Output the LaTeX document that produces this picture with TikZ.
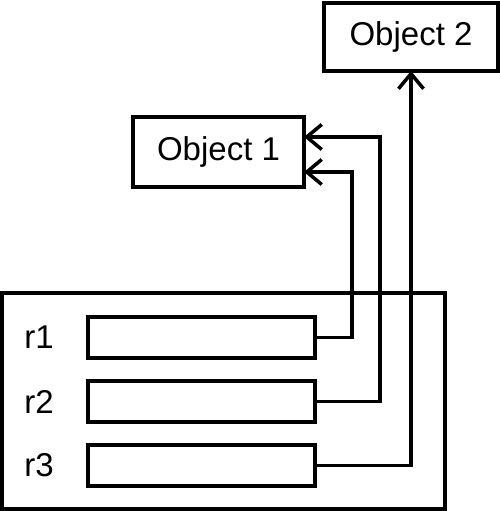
\documentclass[tikz,border=0pt]{standalone}
\usepackage{fontspec}
\setmainfont{Liberation Sans}
\usetikzlibrary{positioning,arrows.meta}

\begin{document}
\begin{tikzpicture}[x=1pt, y=1pt,
  every node/.style={font=\fontsize{33}{38}\selectfont},
  box/.style={draw, line width=3.5pt, inner sep=0pt, outer sep=0pt},
  slot/.style={box, minimum width=227pt, minimum height=41pt},
  link/.style={line width=3.5pt, -{Straight Barb[length=15pt,width=25pt]}}]
  \useasboundingbox (0,0) rectangle (499,511);
  \node[box, minimum width=443pt, minimum height=216pt] (frame) at (223.5,110) {};
  \node[box, minimum width=171pt, minimum height=70pt] (obj1) at (218.5,359) {Object 1};
  \node[box, minimum width=174pt, minimum height=68pt] (obj2) at (411,474) {Object 2};
  \node[slot]                    (row1) at (201.5,173.5) {};
  \node[slot, below=23pt of row1] (row2) {};
  \node[slot, below=23pt of row2] (row3) {};
  \node (lbl1) at (39,173.5) {r1};
  \node (lbl2) at (39,109.5) {r2};
  \node (lbl3) at (39,45.5)  {r3};
  \draw[link] (row1.east) -- ++(37,0) |- ([yshift=-20pt]obj1.east);
  \draw[link] (row2.east) -- ++(65,0) |- ([yshift=15pt]obj1.east);
  \draw[link] (row3.east) -| (obj2.south);
\end{tikzpicture}
\end{document}
